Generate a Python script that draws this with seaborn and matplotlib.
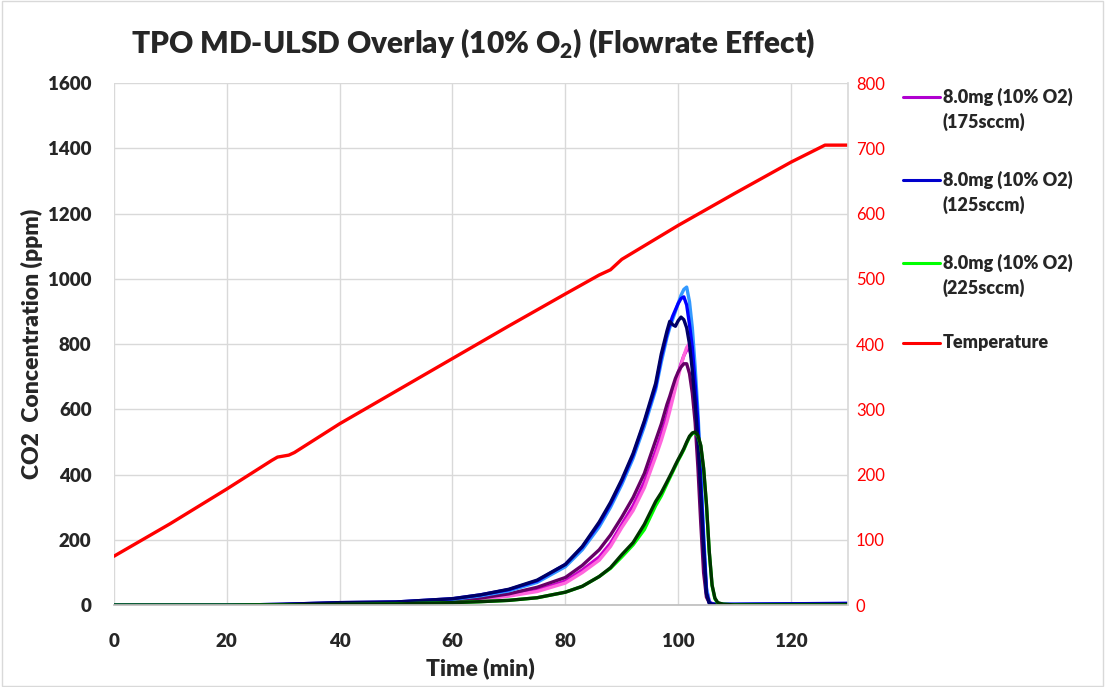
import pandas as pd
import matplotlib.pyplot as plt
import matplotlib.patches as mpatches
from matplotlib.lines import Line2D
import seaborn as sns

# time grid (min) shared by the CO2 curves
time = [0, 20, 30, 40, 50, 60, 65, 70, 75, 80,
        83, 86, 88, 90, 92, 94, 96, 97, 98, 98.5,
        99, 99.5, 100, 100.5, 101, 101.5, 102, 102.5, 103, 103.5,
        104, 104.5, 105, 105.5, 106, 106.5, 107, 108, 110, 130]

# 125 sccm runs
blue = [0, 0, 3, 8, 10, 20, 32, 48, 75, 125,
        178, 250, 310, 380, 460, 560, 670, 760, 830, 860,
        885, 905, 925, 940, 945, 920, 860, 790, 680, 560,
        380, 200, 40, 8, 4, 3, 3, 3, 3, 6]
light_blue = [0, 0, 2, 6, 9, 18, 29, 44, 70, 118,
              170, 240, 300, 370, 450, 548, 660, 745, 820, 850,
              875, 900, 925, 950, 968, 975, 930, 850, 730, 590,
              410, 220, 55, 10, 4, 3, 3, 3, 3, 5]
navy = [0, 0, 3, 8, 10, 20, 32, 49, 77, 125,
        180, 255, 315, 385, 465, 565, 680, 770, 840, 870,
        860, 855, 872, 883, 875, 850, 800, 720, 620, 500,
        340, 170, 35, 6, 3, 2, 2, 2, 2, 4]

# 175 sccm runs
dark_purple = [0, 0, 2, 5, 7, 14, 22, 35, 55, 85,
               122, 170, 215, 270, 330, 404, 505, 555, 615, 640,
               668, 695, 715, 730, 740, 740, 710, 650, 560, 420,
               250, 100, 25, 8, 4, 3, 2, 2, 2, 3]
magenta = [0, 0, 1, 4, 6, 12, 19, 30, 46, 74,
           108, 148, 190, 248, 305, 378, 472, 525, 580, 612,
           645, 680, 712, 740, 765, 782, 785, 750, 660, 520,
           340, 160, 45, 10, 5, 3, 2, 2, 2, 3]
pink = [0, 0, 1, 4, 6, 11, 18, 28, 42, 68,
        100, 138, 180, 238, 290, 360, 455, 505, 562, 595,
        630, 665, 700, 735, 765, 790, 802, 770, 680, 540,
        360, 180, 50, 12, 5, 3, 2, 2, 2, 3]

# 225 sccm runs
green = [0, 0, 1, 2, 4, 8, 11, 15, 23, 40,
         58, 88, 113, 148, 185, 232, 305, 335, 372, 390,
         408, 426, 444, 460, 477, 497, 515, 526, 529, 518,
         488, 418, 308, 163, 60, 20, 7, 3, 1, 1]
dark_green = [0, 0, 1, 3, 4, 8, 11, 15, 23, 40,
              58, 88, 115, 155, 192, 248, 318, 345, 378, 395,
              412, 430, 447, 463, 480, 500, 518, 528, 531, 520,
              490, 420, 310, 165, 62, 22, 8, 3, 1, 1]

# temperature (C), right axis
temp_time = [0, 10, 20, 28, 29, 31, 32, 40, 50, 60, 70, 80, 86, 88, 89, 90, 95, 100, 110, 120, 126, 130]
temp = [75, 125, 178, 222, 227, 230, 234, 278, 328, 378, 428, 477, 506, 514, 522, 530, 556, 582, 631, 679, 705, 705]

left_ticks = [0, 200, 400, 600, 800, 1000, 1200, 1400, 1600]
right_ticks = [0, 100, 200, 300, 400, 500, 600, 700, 800]
x_ticks = [0, 20, 40, 60, 80, 100, 120]

legend_labels = [("8.0mg (10% O2)", "(175sccm)"), ("8.0mg (10% O2)", "(125sccm)"),
                 ("8.0mg (10% O2)", "(225sccm)"), ("Temperature", None)]
legend_colors = ["#b000d0", "#0000cc", "#00ff00", "#ff0000"]

W = 800  # heavy weight, closer to the original bold face


def main():
    sns.set_theme(style="whitegrid")
    plt.rcParams["font.family"] = ["Lato", "DejaVu Sans"]
    plt.rcParams["mathtext.fontset"] = "custom"
    plt.rcParams["mathtext.rm"] = "Lato:heavy"

    fig = plt.figure(figsize=(11.05, 6.87), dpi=100)
    ax = fig.add_axes([0.103, 0.119, 0.664, 0.760])

    curves = [
        (magenta, "#cc00cc"), (pink, "#ff66dd"), (dark_purple, "#660066"),
        (light_blue, "#3399ff"), (blue, "#0000ff"), (navy, "#000066"),
        (green, "#00ff00"), (dark_green, "#003300"),
    ]
    for vals, col in curves:
        df = pd.DataFrame({"t": time, "v": vals})
        sns.lineplot(data=df, x="t", y="v", color=col, lw=2.4, ax=ax, legend=False)

    ax.set_xlim(0, 130)
    ax.set_ylim(0, 1600)
    ax.set_xticks(x_ticks)
    ax.set_yticks(left_ticks)
    ax.grid(True, color="#d9d9d9", lw=1)
    ax.tick_params(axis="y", labelsize=13.5, pad=16, length=0)
    ax.tick_params(axis="x", labelsize=13.5, pad=20, length=0)
    for lbl in ax.get_xticklabels() + ax.get_yticklabels():
        lbl.set_fontweight(W)
    ax.set_xlabel("Time (min)", fontsize=16.5, fontweight=W, labelpad=5)
    ax.set_ylabel("CO2  Concentration (ppm)", fontsize=16.5, fontweight=W, labelpad=4)
    for side in ["top", "left", "right"]:
        ax.spines[side].set_visible(False)
    ax.spines["bottom"].set_color("#bfbfbf")

    ax2 = ax.twinx()
    tdf = pd.DataFrame({"t": temp_time, "T": temp})
    sns.lineplot(data=tdf, x="t", y="T", color="#ff0000", lw=2.4, ax=ax2, legend=False)
    ax2.set_ylim(0, 800)
    ax2.set_yticks(right_ticks)
    ax2.grid(False)
    ax2.set_ylabel("")
    ax2.tick_params(axis="y", labelsize=12, colors="#ff0000", length=0, pad=6)
    for side in ["top", "left", "bottom"]:
        ax2.spines[side].set_visible(False)
    ax2.spines["right"].set_color("#d9d9d9")

    fig.text(0.428, 0.937, r"TPO MD-ULSD Overlay (10% O$_2$) (Flowrate Effect)",
             ha="center", va="center", fontsize=21.5, fontweight=W)

    # legend drawn by hand: handle sits on the first text line, as in the original
    tops = [0.859, 0.738, 0.617, 0.501]
    for (l1, l2), col, y in zip(legend_labels, legend_colors, tops):
        fig.add_artist(Line2D([0.817, 0.851], [y, y], color=col, lw=2.2,
                              transform=fig.transFigure))
        fig.text(0.853, y, l1, ha="left", va="center", fontsize=13, fontweight=W)
        if l2:
            fig.text(0.853, y - 0.0365, l2, ha="left", va="center", fontsize=13,
                     fontweight=W)

    fig.patches.append(mpatches.Rectangle((0.002, 0.002), 0.996, 0.996, fill=False,
                                          edgecolor="#d9d9d9", lw=1,
                                          transform=fig.transFigure))

    fig.savefig("out.png", dpi=100)


if __name__ == "__main__":
    main()
